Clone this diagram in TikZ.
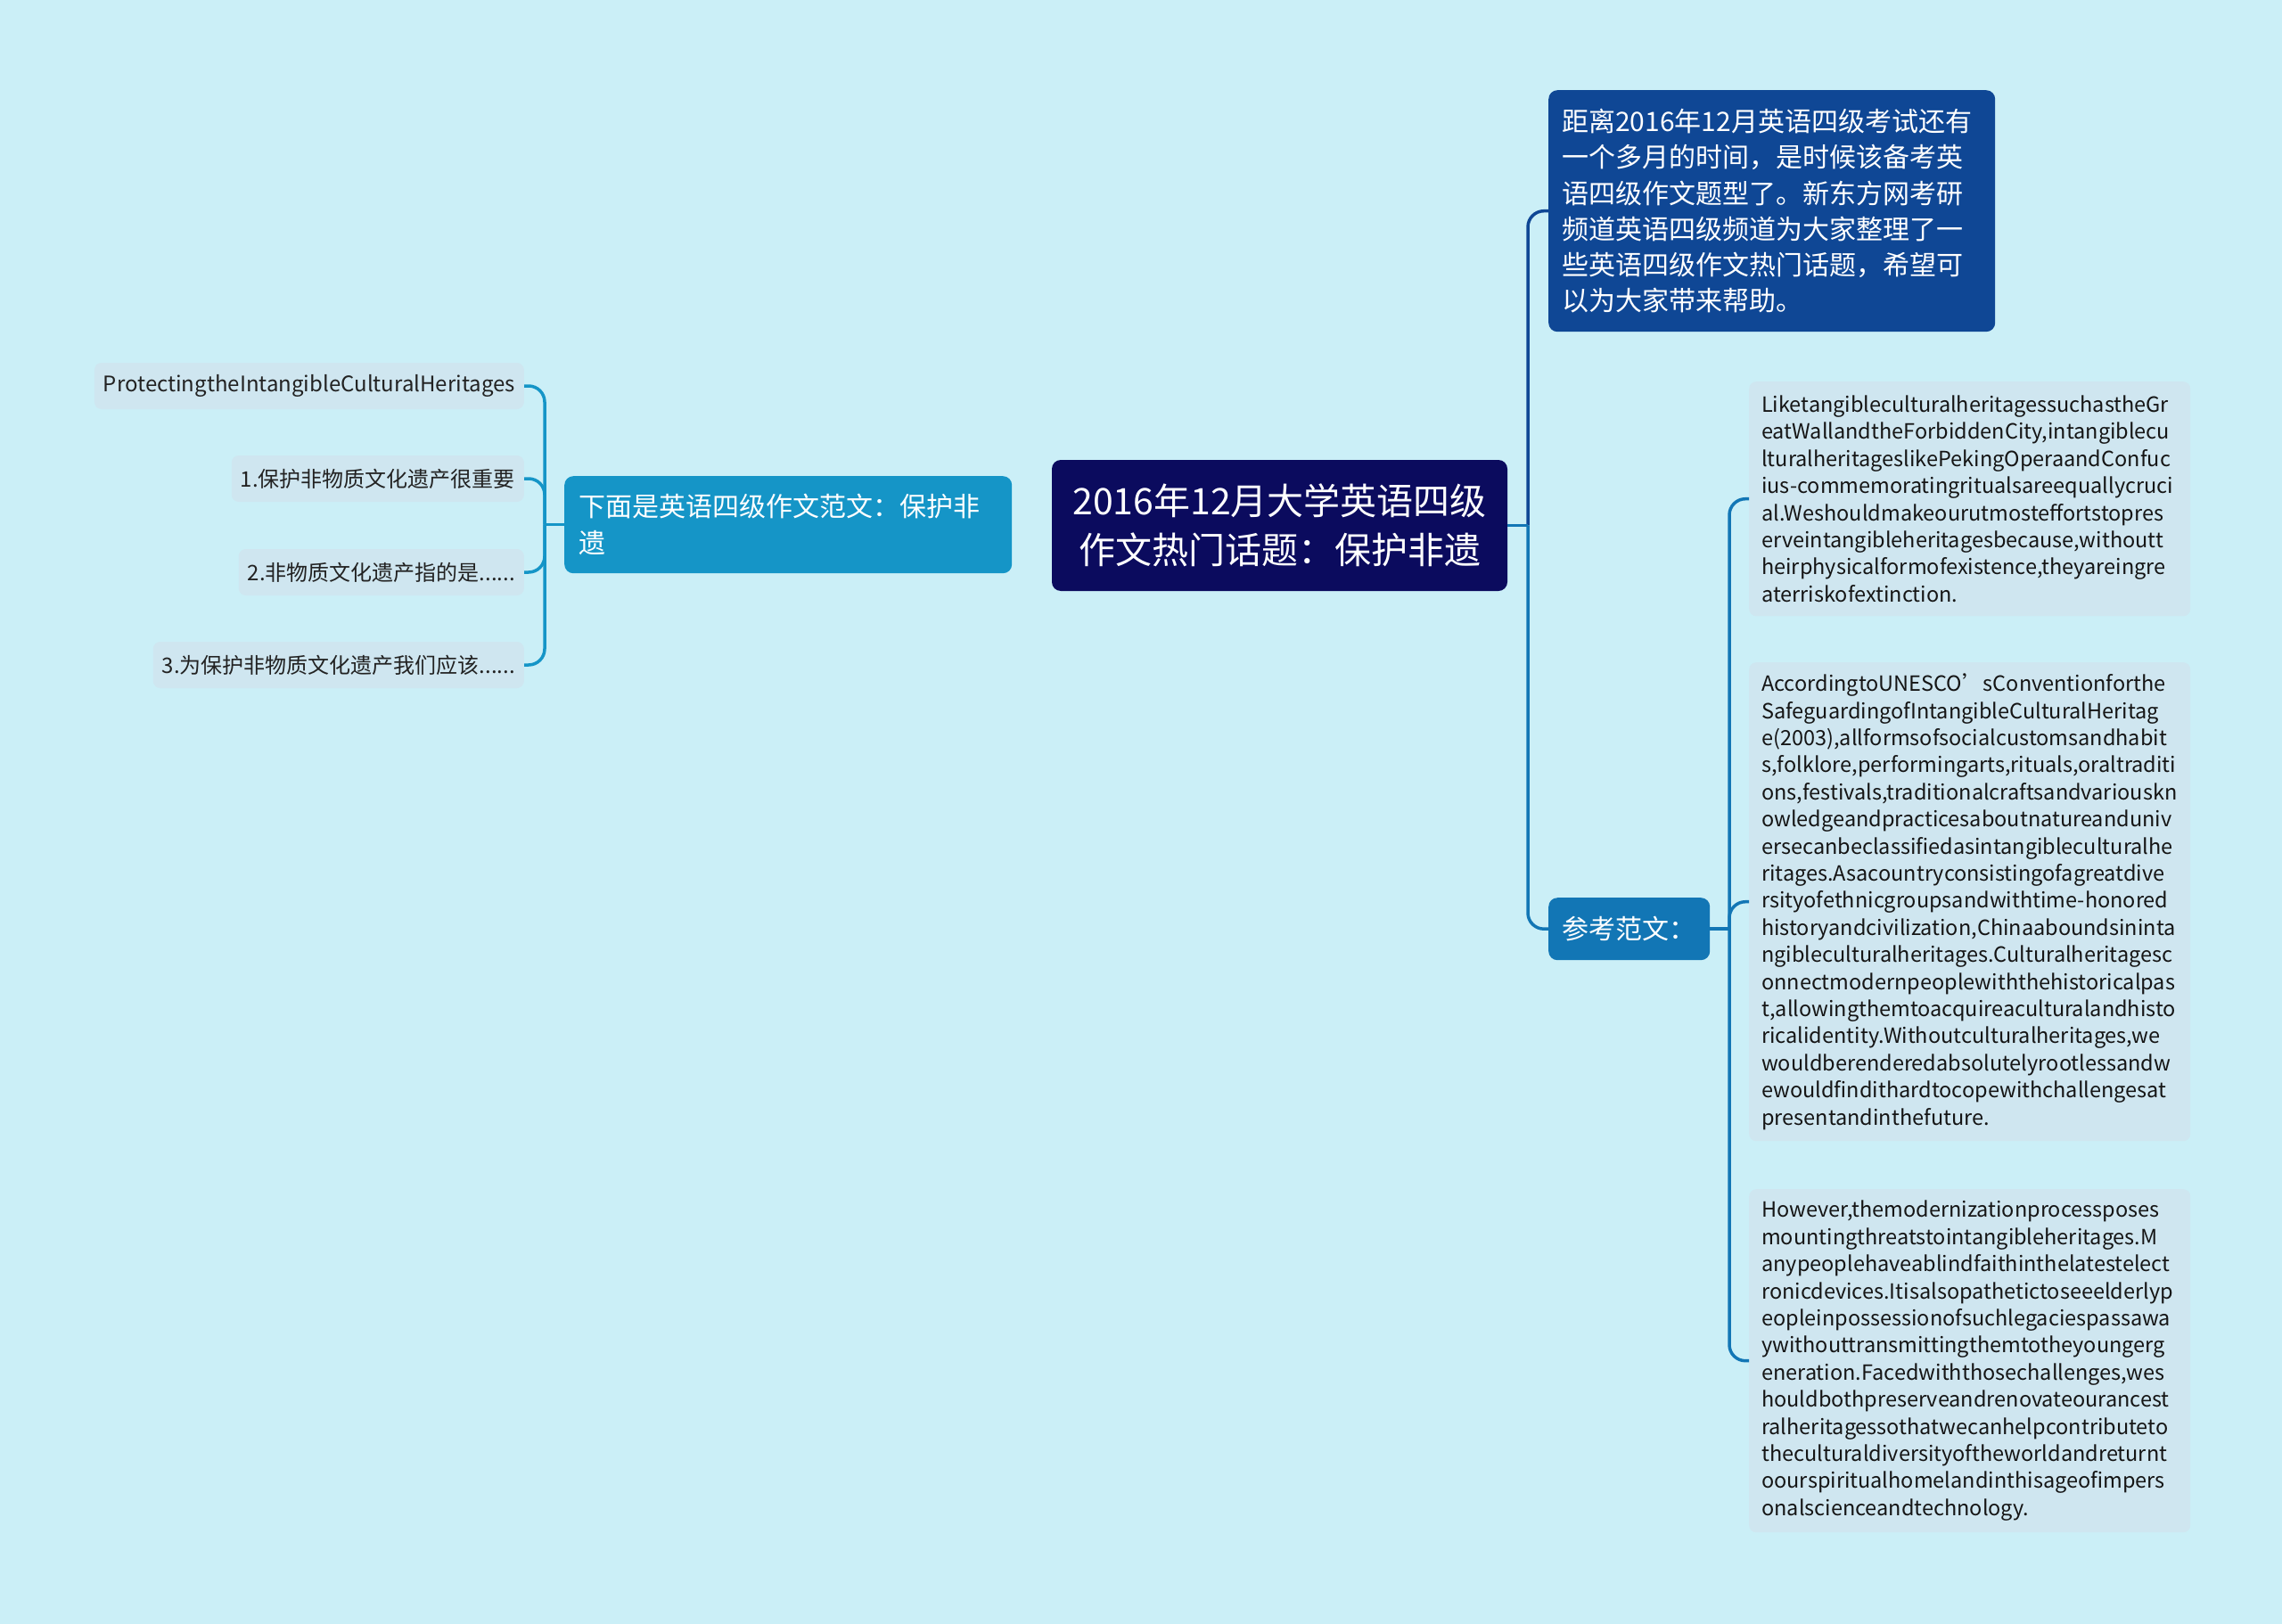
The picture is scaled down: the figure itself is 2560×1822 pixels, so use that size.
\documentclass[tikz,border=0pt]{standalone}
\usepackage{fontspec}
\setmainfont{Noto Sans CJK SC}
\definecolor{bgc}{HTML}{CBEFF7}
\definecolor{cnavy}{HTML}{0B0B5E}
\definecolor{clblue}{HTML}{1595C7}
\definecolor{ctop}{HTML}{0F4795}
\definecolor{cref}{HTML}{1276B5}
\definecolor{leaffill}{HTML}{CFE6F0}
\definecolor{leaftext}{HTML}{222222}
\definecolor{boxtext}{HTML}{151515}
\tikzset{
  central/.style={rounded corners=10pt, fill=cnavy, text=white, minimum width=511pt, minimum height=147pt, align=center, inner sep=0pt, font=\fontsize{41}{55}\selectfont},
  lnode/.style={rounded corners=10pt, fill=clblue, text=white, text width=470pt, inner xsep=16pt, inner ysep=0pt, minimum height=109pt, align=left, font=\fontsize{30}{41}\selectfont},
  tnode/.style={rounded corners=10pt, fill=ctop, text=white, text width=471pt, inner xsep=15pt, inner ysep=0pt, minimum height=271pt, align=left, font=\fontsize{30}{40.2}\selectfont},
  rnode/.style={rounded corners=10pt, fill=cref, text=white, inner xsep=15pt, inner ysep=0pt, minimum height=70pt, minimum width=181pt, font=\fontsize{30}{36}\selectfont},
  leaf/.style={rounded corners=8pt, fill=leaffill, text=leaftext, inner xsep=10pt, inner ysep=0pt, minimum height=52pt, font=\fontsize{24}{28}\selectfont},
  tbox/.style={rounded corners=8pt, fill=leaffill, text=boxtext, text width=467pt, inner xsep=14pt, inner ysep=0pt, align=left, font=\fontsize{23.5}{30.4}\selectfont},
  lconn/.style={draw=clblue, line width=3.5pt},
  tconn/.style={draw=ctop, line width=3.5pt},
  rconn/.style={draw=cref, line width=3.5pt},
}
\begin{document}
\begin{tikzpicture}[x=1pt,y=-1pt]
\fill[bgc] (0,0) rectangle (2560,1822);
\useasboundingbox (0,0) rectangle (2560,1822);

% nodes
\node[central] (c) at (1435.5,589.5) {2016年12月大学英语四级\\作文热门话题：保护非遗};
\node[lnode, anchor=north west] (l) at (633,534) {下面是英语四级作文范文：保护非\\遗};

\node[leaf, anchor=east] (a0) at (588,433) {ProtectingtheIntangibleCulturalHeritages};
\node[leaf, anchor=east] (a1) at (588,537) {1.保护非物质文化遗产很重要};
\node[leaf, anchor=east] (a2) at (588,642) {2.非物质文化遗产指的是......};
\node[leaf, anchor=east] (a3) at (588,746) {3.为保护非物质文化遗产我们应该......};

\node[tnode, anchor=north west] (t) at (1737,101) {距离2016年12月英语四级考试还有\\一个多月的时间，是时候该备考英\\语四级作文题型了。新东方网考研\\频道英语四级频道为大家整理了一\\些英语四级作文热门话题，希望可\\以为大家带来帮助。};
\node[rnode, anchor=north west] (r) at (1737,1007) {参考范文：};

\node[tbox, anchor=north west, minimum height=263pt] (b1) at (1962,428) {LiketangibleculturalheritagessuchastheGr\\eatWallandtheForbiddenCity,intangiblecu\\lturalheritageslikePekingOperaandConfuc\\ius-commemoratingritualsareequallycruci\\al.Weshouldmakeourutmosteffortstopres\\erveintangibleheritagesbecause,withoutt\\heirphysicalformofexistence,theyareingre\\aterriskofextinction.};

\node[tbox, anchor=north west, minimum height=537pt] (b2) at (1962,743) {\mbox{AccordingtoUNESCO’sConventionforthe}\\SafeguardingofIntangibleCulturalHeritag\\e(2003),allformsofsocialcustomsandhabit\\s,folklore,performingarts,rituals,oraltraditi\\ons,festivals,traditionalcraftsandvariouskn\\owledgeandpracticesaboutnatureanduniv\\ersecanbeclassifiedasintangibleculturalhe\\ritages.Asacountryconsistingofagreatdive\\rsityofethnicgroupsandwithtime-honored\\historyandcivilization,Chinaaboundsininta\\ngibleculturalheritages.Culturalheritagesc\\onnectmodernpeoplewiththehistoricalpas\\t,allowingthemtoacquireaculturalandhisto\\ricalidentity.Withoutculturalheritages,we\\wouldberenderedabsolutelyrootlessandw\\ewouldfindithardtocopewithchallengesat\\presentandinthefuture.};

\node[tbox, anchor=north west, minimum height=385pt] (b3) at (1962,1334) {However,themodernizationprocessposes\\mountingthreatstointangibleheritages.M\\anypeoplehaveablindfaithinthelatestelect\\ronicdevices.Itisalsopathetictoseeelderlyp\\eopleinpossessionofsuchlegaciespassawa\\ywithouttransmittingthemtotheyoungerg\\eneration.Facedwiththosechallenges,wes\\houldbothpreserveandrenovateourancest\\ralheritagessothatwecanhelpcontributeto\\theculturaldiversityoftheworldandreturnt\\oourspiritualhomelandinthisageofimpers\\onalscienceandtechnology.};

% connectors
\coordinate (lx) at (611,0);
\draw[lconn] (l.west) -- (l.west -| lx);
\foreach \n in {a0,a1,a2,a3}
  \draw[lconn, rounded corners=18pt] (l.west -| lx) |- (\n.east);

\coordinate (cx) at (1714,0);
\draw[tconn, rounded corners=18pt] (c.east -| cx) |- (t.west);
\draw[rconn, rounded corners=18pt] (c.east -| cx) |- (r.west);
\draw[rconn] (c.east) -- (c.east -| cx);

\coordinate (rx) at (1940,0);
\draw[rconn] (r.east) -- (r.east -| rx);
\foreach \n in {b1,b2,b3}
  \draw[rconn, rounded corners=18pt] (r.east -| rx) |- (\n.west);
\end{tikzpicture}
\end{document}
